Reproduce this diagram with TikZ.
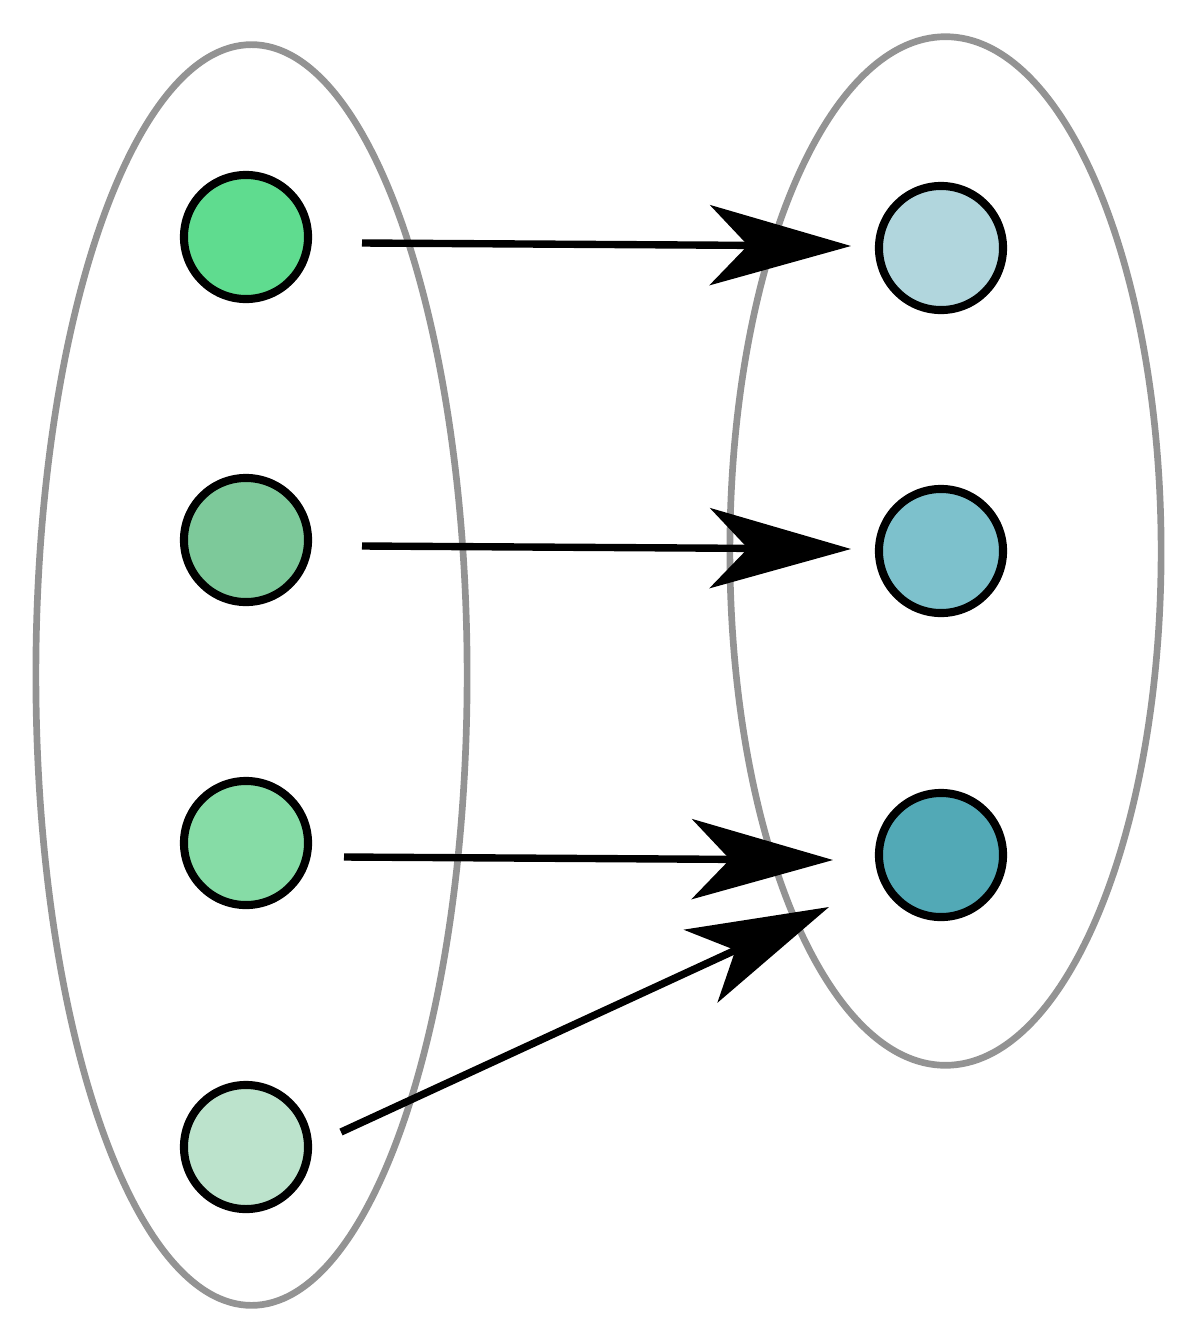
\documentclass[tikz,border=0pt]{standalone}
\usepackage{tikz}
\usetikzlibrary{arrows.meta,calc,positioning}
\definecolor{setgray}{HTML}{939393}
\definecolor{dgA}{HTML}{5FDC8F}
\definecolor{dgB}{HTML}{7DC99A}
\definecolor{dgC}{HTML}{86DCA6}
\definecolor{dgD}{HTML}{BCE3CC}
\definecolor{cdA}{HTML}{B1D6DD}
\definecolor{cdB}{HTML}{7DC1CC}
\definecolor{cdC}{HTML}{52A9B6}

\begin{document}
\begin{tikzpicture}[x=0.01cm,y=-0.01cm,>={Stealth[length=1.41cm,width=0.8cm,inset=0.38cm]}]
			\tikzstyle{setline}=[draw=setgray, line width=1.9pt]
			\tikzstyle{elem}=[circle, draw=black, line width=2.3pt, inner sep=0pt, minimum size=1.24cm]
			\tikzstyle{maps}=[->, line width=2.1pt]

			\useasboundingbox (0,0) rectangle (1200,1339);

			% the two sets
			\draw [setline] (251.5,675) ellipse [x radius=2.155cm, y radius=6.3cm];
			\draw [setline] (945.5,551) ellipse [x radius=2.155cm, y radius=5.14cm];

			% domain
			\node [elem, fill=dgA] (l1) at (246,237) {};
			\node [elem, fill=dgB] (l2) at (246,540) {};
			\node [elem, fill=dgC] (l3) at (246,843) {};
			\node [elem, fill=dgD] (l4) at (246,1147) {};

			% codomain
			\node [elem, fill=cdA] (r1) at (941,248) {};
			\node [elem, fill=cdB] (r2) at (941,551) {};
			\node [elem, fill=cdC] (r3) at (941,855) {};

			\coordinate (s1) at ($(l1)+(116,6)$);
			\coordinate (t1) at ($(r1)+(-90,-2)$);
			\coordinate (s2) at ($(l2)+(116,6)$);
			\coordinate (t2) at ($(r2)+(-90,-2)$);
			\coordinate (s3) at ($(l3)+(98,14)$);
			\coordinate (t3) at ($(r3)+(-108,5)$);
			\coordinate (s4) at ($(l4)+(95,-15)$);
			\coordinate (t4) at ($(r3)+(-112,52)$);

			\draw [maps] (s1) -- (t1);
			\draw [maps] (s2) -- (t2);
			\draw [maps] (s3) -- (t3);
			\draw [maps] (s4) -- (t4);
		\end{tikzpicture}
\end{document}
